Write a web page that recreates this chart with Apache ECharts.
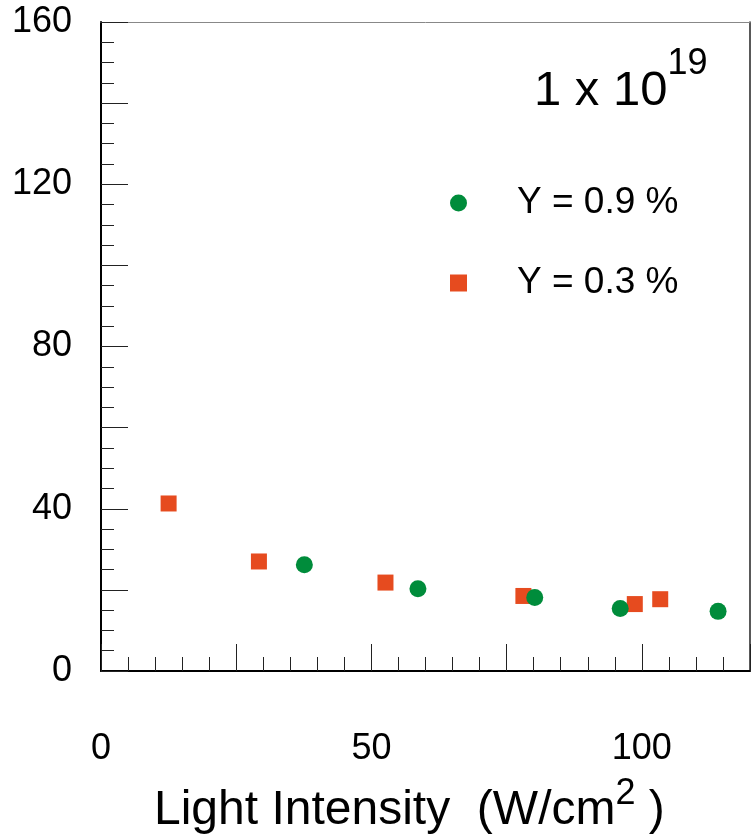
<!DOCTYPE html>
<html>
<head>
<meta charset="utf-8">
<script src="https://cdn.jsdelivr.net/npm/echarts@6/dist/echarts.min.js"></script>
<style>
  html, body { margin: 0; padding: 0; background: #fff; }
  #chart { width: 753px; height: 836px; }
</style>
</head>
<body>
<div id="chart"></div>
<script>
// Measured points: light intensity (W/cm^2) vs. value (x 1e19)
const seriesNames = ['Y = 0.9 %', 'Y = 0.3 %'];
const intensity09 = [37.6, 58.6, 80.2, 96.0, 114.1];
const values09 = [26.2, 20.3, 18.1, 15.4, 14.7];
const intensity03 = [12.5, 29.2, 52.6, 78.1, 98.7, 103.4];
const values03 = [41.3, 27.0, 21.8, 18.5, 16.5, 17.7];
const xLabelValues = [0, 50, 100];
const yLabelValues = [0, 40, 80, 120, 160];

const FONT = '"Liberation Sans", Arial, Helvetica, sans-serif';
const GREEN = '#008C3B';
const ORANGE = '#E64B1F';
const TICK = { color: '#222', width: 1 };

const zip = (xs, ys) => xs.map((x, i) => [x, ys[i]]);

const chart = echarts.init(document.getElementById('chart'), null, { renderer: 'canvas' });

chart.setOption({
  animation: false,
  backgroundColor: '#fff',
  textStyle: { fontFamily: FONT },
  grid: { left: 101, right: 2, top: 22, bottom: 165, containLabel: false },
  title: [
    {
      text: '{b|1 x 10}{s|19}',
      left: 534,
      top: 67,
      padding: 0,
      textStyle: {
        fontWeight: 'normal',
        rich: {
          b: { fontFamily: FONT, fontWeight: 'normal', fontSize: 49, lineHeight: 49, color: '#000', verticalAlign: 'bottom' },
          s: { fontFamily: FONT, fontWeight: 'normal', fontSize: 36, lineHeight: 36, color: '#000', verticalAlign: 'bottom', padding: [0, 0, 34, 0] }
        }
      }
    },
    {
      text: '{b|Light Intensity  (W/cm}{s|2}{b| )}',
      left: 154,
      top: 787,
      padding: 0,
      textStyle: {
        fontWeight: 'normal',
        rich: {
          b: { fontFamily: FONT, fontWeight: 'normal', fontSize: 48, lineHeight: 48, color: '#000', verticalAlign: 'bottom' },
          s: { fontFamily: FONT, fontWeight: 'normal', fontSize: 36, lineHeight: 36, color: '#000', verticalAlign: 'bottom', padding: [0, 0, 23, 0] }
        }
      }
    }
  ],
  legend: {
    orient: 'vertical',
    left: 450,
    top: 183,
    padding: 0,
    itemWidth: 17,
    itemHeight: 17,
    itemGap: 40,
    selectedMode: false,
    itemStyle: { opacity: 1 },
    data: [
      { name: seriesNames[0], icon: 'circle' },
      { name: seriesNames[1], icon: 'rect' }
    ],
    textStyle: { fontFamily: FONT, fontSize: 37, lineHeight: 40, color: '#000', padding: [0, 0, 0, 45] }
  },
  xAxis: [
    {
      type: 'value', min: 0, max: 120, interval: 5, position: 'bottom',
      axisLine: { show: true, onZero: false, lineStyle: { color: '#000', width: 2 } },
      axisTick: { show: true, inside: true, length: 14, lineStyle: TICK },
      axisLabel: {
        show: true, margin: 60, fontFamily: FONT, fontSize: 36, color: '#000',
        formatter: v => (xLabelValues.indexOf(v) >= 0 ? String(v) : '')
      },
      splitLine: { show: false }
    },
    {
      type: 'value', min: 0, max: 120, interval: 25, position: 'bottom',
      axisLine: { show: false },
      axisTick: { show: true, inside: true, length: 27, lineStyle: TICK },
      axisLabel: { show: false },
      splitLine: { show: false }
    },
    {
      type: 'value', min: 0, max: 120, position: 'top',
      axisLine: { show: true, onZero: false, lineStyle: { color: '#888', width: 1 } },
      axisTick: { show: false },
      axisLabel: { show: false },
      splitLine: { show: false }
    }
  ],
  yAxis: [
    {
      type: 'value', min: 0, max: 160, interval: 20, position: 'left',
      axisLine: { show: true, onZero: false, lineStyle: { color: '#000', width: 2 } },
      axisTick: { show: true, inside: true, length: 27, lineStyle: TICK },
      minorTick: { show: true, splitNumber: 4, length: 13, lineStyle: TICK },
      axisLabel: {
        show: true, margin: 29, fontFamily: FONT, fontSize: 36, color: '#000',
        formatter: v => (yLabelValues.indexOf(v) >= 0 ? String(v) : '')
      },
      splitLine: { show: false }
    },
    {
      type: 'value', min: 0, max: 160, position: 'right',
      axisLine: { show: true, onZero: false, lineStyle: { color: '#222', width: 1.5 } },
      axisTick: { show: false },
      axisLabel: { show: false },
      splitLine: { show: false }
    }
  ],
  series: [
    {
      name: seriesNames[1],
      type: 'scatter',
      xAxisIndex: 0, yAxisIndex: 0,
      symbol: 'rect',
      symbolSize: 16,
      itemStyle: { color: ORANGE, opacity: 1 },
      data: zip(intensity03, values03),
      z: 2
    },
    {
      name: seriesNames[0],
      type: 'scatter',
      xAxisIndex: 0, yAxisIndex: 0,
      symbol: 'circle',
      symbolSize: 17,
      itemStyle: { color: GREEN, opacity: 1 },
      data: zip(intensity09, values09),
      z: 3
    }
  ]
});
</script>
</body>
</html>
